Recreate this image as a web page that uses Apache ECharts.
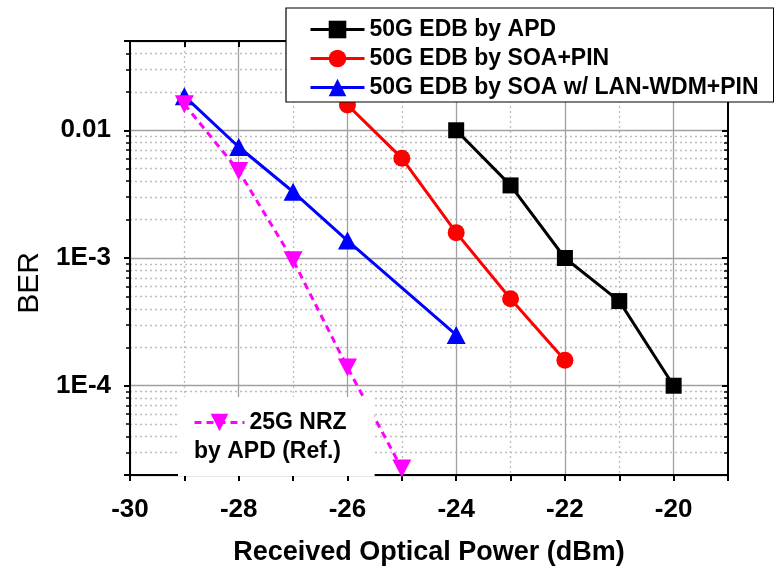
<!DOCTYPE html>
<html>
<head>
<meta charset="utf-8">
<script src="https://cdn.jsdelivr.net/npm/echarts@6/dist/echarts.min.js"></script>
<style>
  html, body { margin: 0; padding: 0; background: #fff; }
  #berChart { width: 774px; height: 571px; }
</style>
</head>
<body>
<div id="berChart"></div>
<script>
// received power (dBm) and BER
var powerApd = [-24, -23, -22, -21, -20];
var berApd = [0.01, 0.0037, 0.001, 0.00046, 0.0001];

var powerSoa = [-26, -25, -24, -23, -22];
var berSoa = [0.0158, 0.00605, 0.00158, 0.00048, 0.000158];

var powerLan = [-29, -28, -27, -26, -24];
var berLan = [0.0185, 0.0074, 0.0033, 0.00137, 0.00025];

var powerNrz = [-29, -28, -27, -26, -25];
var berNrz = [0.016, 0.0048, 0.00096, 0.000139, 0.0000225];

var seriesNames = ['50G EDB by APD', '50G EDB by SOA+PIN', '50G EDB by SOA w/ LAN-WDM+PIN', '25G NRZ'];

// axis ticks
var xTickLabels = [-30, -28, -26, -24, -22, -20];
var yTickValues = [0.01, 0.001, 0.0001];
var yTickLabels = ['0.01', '1E-3', '1E-4'];

function pairs(xs, ys) {
    return xs.map(function (x, i) { return [x, ys[i]]; });
}

var font = '"Liberation Sans", Arial, sans-serif';

var myChart = echarts.init(document.getElementById('berChart'));

var option = {
    animation: false,
    backgroundColor: '#fff',
    textStyle: { fontFamily: font },
    grid: {
        left: 130,
        right: 46,
        top: 41,
        bottom: 88
    },
    title: {
        text: 'by APD (Ref.)',
        left: 194,
        top: 440,
        padding: 0,
        textStyle: { fontFamily: font, fontSize: 23, fontWeight: 'bold', color: '#000' }
    },
    legend: [{
        data: seriesNames.slice(0, 3),
        orient: 'vertical',
        left: 286,
        top: 8,
        padding: [10, 15, 3, 23],
        itemWidth: 54,
        itemHeight: 22,
        itemGap: 6,
        lineStyle: { width: 3 },
        backgroundColor: '#fff',
        borderColor: '#000',
        borderWidth: 1.2,
        borderRadius: 0,
        textStyle: { fontFamily: font, fontSize: 23, fontWeight: 'bold', color: '#000', lineHeight: 23 }
    }, {
        data: [seriesNames[3]],
        orient: 'vertical',
        left: 178,
        top: 397,
        padding: [14, 28, 42, 15],
        itemWidth: 50,
        itemHeight: 22,
        lineStyle: { width: 3 },
        backgroundColor: '#fff',
        textStyle: { fontFamily: font, fontSize: 23, fontWeight: 'bold', color: '#000', lineHeight: 23 }
    }],
    xAxis: [{
        type: 'value',
        position: 'bottom',
        min: -30,
        max: -19,
        interval: 1,
        name: 'Received Optical Power (dBm)',
        nameLocation: 'middle',
        nameGap: 64,
        nameTextStyle: { fontFamily: font, fontSize: 27, fontWeight: 'bold', color: '#000' },
        axisLine: { show: true, onZero: false, lineStyle: { color: '#000', width: 2 } },
        axisTick: { show: true, inside: false, length: 6, lineStyle: { color: '#000', width: 2 } },
        axisLabel: {
            margin: 22,
            fontFamily: font,
            fontSize: 26,
            fontWeight: 'bold',
            color: '#000',
            formatter: function (v) {
                return xTickLabels.indexOf(v) >= 0 ? String(v) : '';
            }
        },
        splitLine: {
            show: true,
            lineStyle: { color: ['#a0a0a0', 'rgba(0,0,0,0)'], width: 1.3, type: 'solid' }
        }
    }, {
        type: 'value',
        position: 'top',
        min: -30,
        max: -19,
        interval: 1,
        axisLine: { show: true, onZero: false, lineStyle: { color: '#000', width: 2 } },
        axisTick: { show: true, inside: true, length: 6, lineStyle: { color: '#000', width: 2 } },
        axisLabel: { show: false },
        splitLine: {
            show: true,
            lineStyle: { color: ['rgba(0,0,0,0)', '#bdbdbd'], width: 1.3, type: [2, 3] }
        }
    }],
    yAxis: [{
        type: 'log',
        logBase: 10,
        position: 'left',
        min: 0.00002,
        max: 0.05,
        name: 'BER',
        nameLocation: 'middle',
        nameGap: 82,
        nameRotate: 90,
        nameTextStyle: { fontFamily: font, fontSize: 30, fontWeight: 'normal', color: '#000', padding: [0, 50, 0, 0] },
        axisLine: { show: true, onZero: false, lineStyle: { color: '#000', width: 2 } },
        axisTick: { show: true, inside: false, length: 6, lineStyle: { color: '#000', width: 2 } },
        minorTick: { show: true, splitNumber: 9, length: 4, lineStyle: { color: '#000', width: 1.5 } },
        axisLabel: {
            margin: 19,
            fontFamily: font,
            fontSize: 26,
            fontWeight: 'bold',
            color: '#000',
            showMinLabel: false,
            showMaxLabel: false,
            formatter: function (v) {
                for (var i = 0; i < yTickValues.length; i++) {
                    if (Math.abs(v - yTickValues[i]) < yTickValues[i] * 1e-6) return yTickLabels[i];
                }
                return '';
            }
        },
        splitLine: { show: true, lineStyle: { color: '#a0a0a0', width: 1.3 } },
        minorSplitLine: { show: true, lineStyle: { color: '#bdbdbd', width: 1.3, type: [2, 3] } }
    }, {
        type: 'log',
        logBase: 10,
        position: 'right',
        min: 0.00002,
        max: 0.05,
        axisLine: { show: true, onZero: false, lineStyle: { color: '#000', width: 2 } },
        axisTick: { show: true, inside: true, length: 6, lineStyle: { color: '#000', width: 2 } },
        minorTick: { show: true, splitNumber: 9, length: 4, lineStyle: { color: '#000', width: 1.5 } },
        axisLabel: { show: false },
        splitLine: { show: false }
    }],
    series: [{
        name: seriesNames[0],
        type: 'line',
        data: pairs(powerApd, berApd),
        symbol: 'rect',
        symbolSize: 16,
        itemStyle: { color: '#000' },
        lineStyle: { color: '#000', width: 3 }
    }, {
        name: seriesNames[1],
        type: 'line',
        data: pairs(powerSoa, berSoa),
        symbol: 'circle',
        symbolSize: 17,
        itemStyle: { color: '#ff0000' },
        lineStyle: { color: '#ff0000', width: 3 }
    }, {
        name: seriesNames[2],
        type: 'line',
        data: pairs(powerLan, berLan),
        symbol: 'triangle',
        symbolSize: [19, 18],
        itemStyle: { color: '#0000ff' },
        lineStyle: { color: '#0000ff', width: 3 }
    }, {
        name: seriesNames[3],
        type: 'line',
        data: pairs(powerNrz, berNrz),
        symbol: 'triangle',
        symbolRotate: 180,
        symbolSize: [19, 18],
        itemStyle: { color: '#ff00ff' },
        lineStyle: { color: '#ff00ff', width: 3, type: [7, 5] }
    }]
};

myChart.setOption(option);
</script>
</body>
</html>
